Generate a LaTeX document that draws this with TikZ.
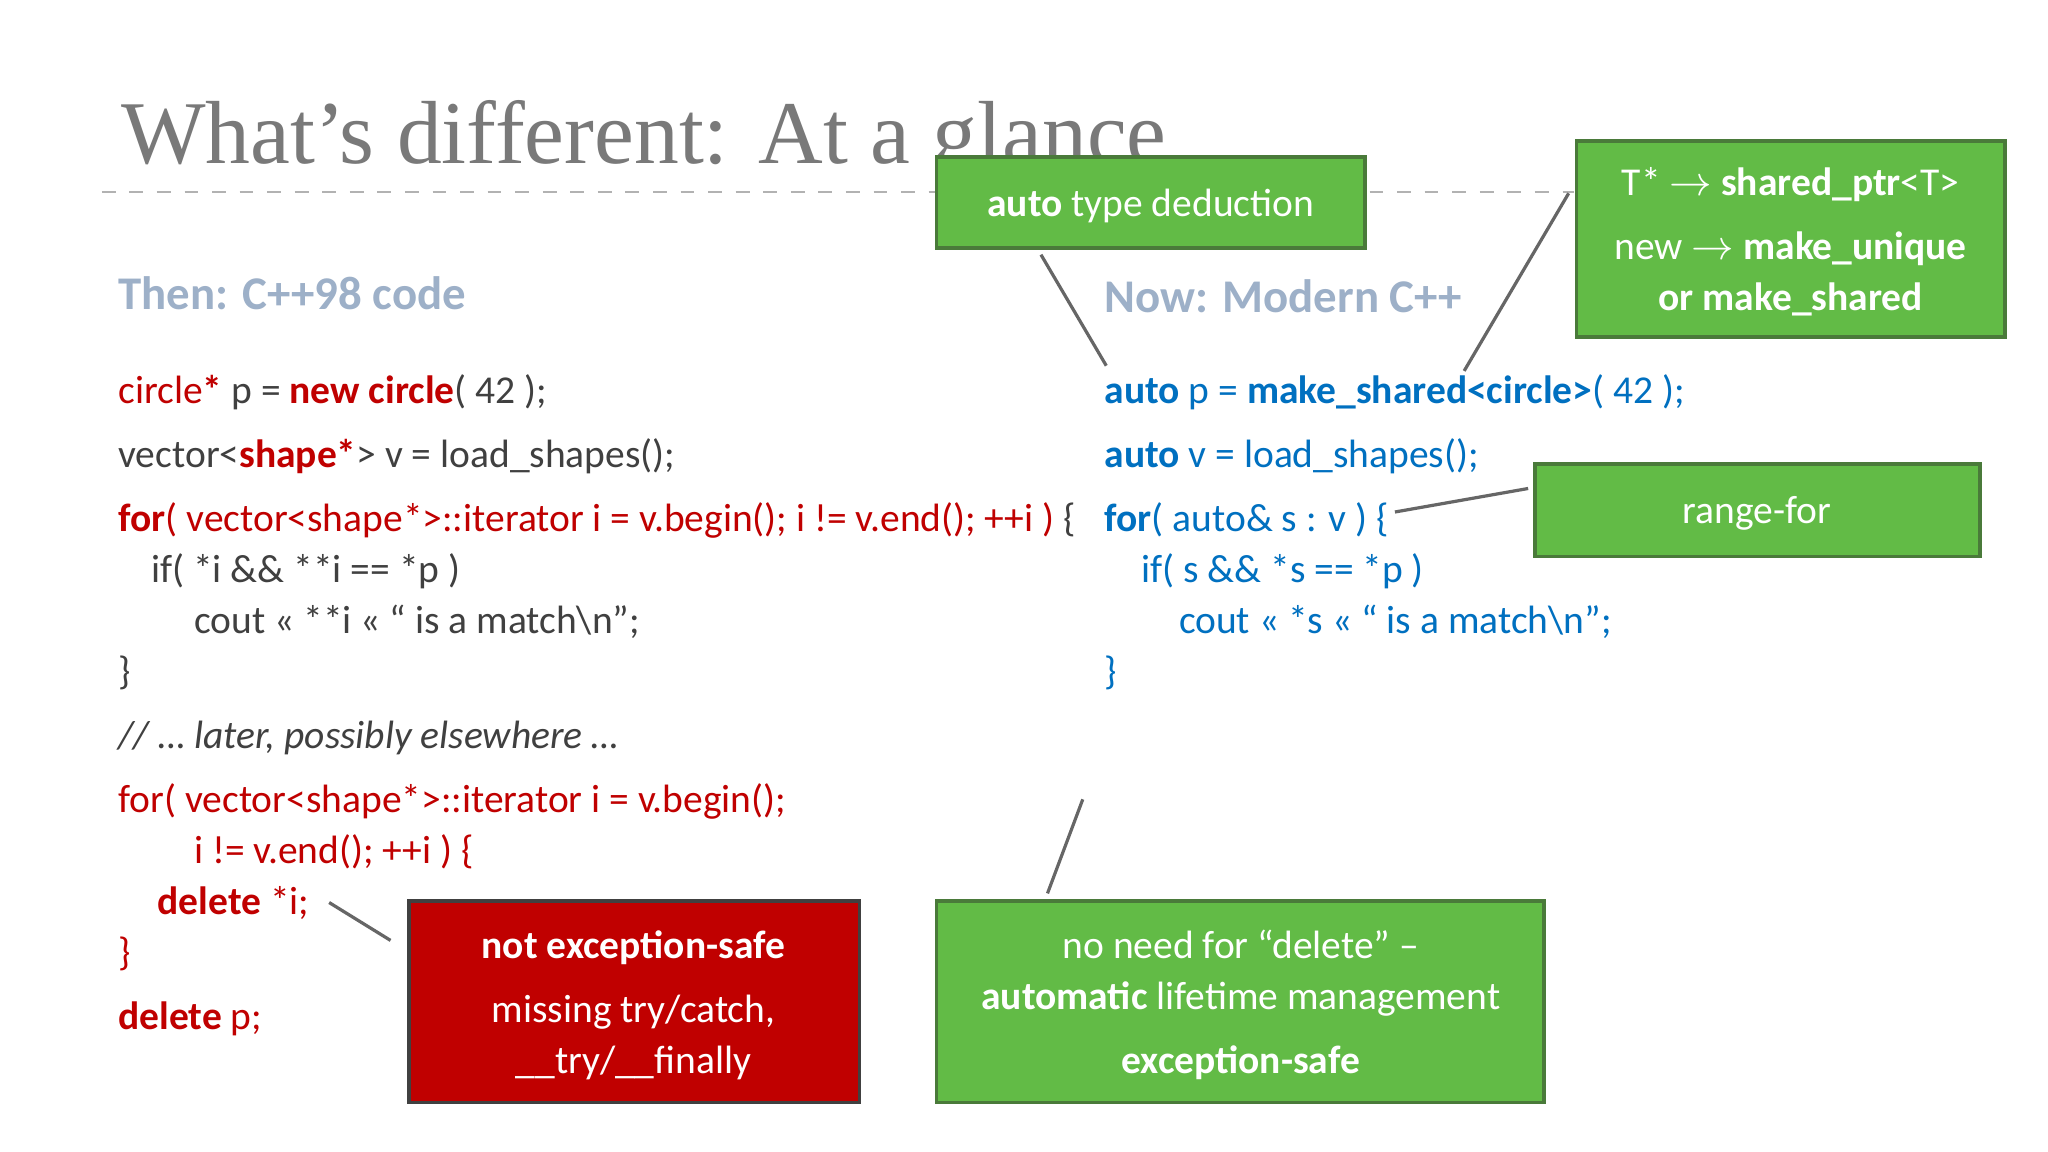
\documentclass[tikz,border=0pt]{standalone}
\usepackage{fontspec}
\setmainfont{Carlito}
\newfontfamily\titlefont{Liberation Serif}
\definecolor{cred}{HTML}{C00000}
\definecolor{cblue}{HTML}{0070C0}
\definecolor{cgreen}{HTML}{62BB46}
\definecolor{cgreenb}{HTML}{4A7A3A}
\definecolor{ctext}{HTML}{404040}
\definecolor{chead}{HTML}{9DB0C8}
\tikzset{
 code/.style={anchor=base west,inner sep=0,font=\fontsize{8.6pt}{10pt}\selectfont,text=ctext},
 head/.style={anchor=base west,inner sep=0,font=\fontsize{10.2pt}{12pt}\selectfont\bfseries,text=chead},
 gbox/.style={draw=cgreenb,line width=0.8pt,fill=cgreen,text=white},
 rbox/.style={draw=ctext,line width=0.8pt,fill=cred,text=white},
 btxt/.style={inner sep=0,anchor=base,text=white,font=\fontsize{8.6pt}{10pt}\selectfont},
 conn/.style={draw=ctext!80,line width=0.7pt}
}
\begin{document}
\begin{tikzpicture}[x=0.01cm,y=-0.01cm]
\useasboundingbox[fill=white] (0,0) rectangle (1568,882);
\node[anchor=base west,inner sep=0,font=\titlefont\fontsize{19.5pt}{22pt}\selectfont,text=gray!50!black!70] (title) at (92,125) {What’s different: At a glance};
\draw[gray!60,dashed,line width=0.5pt] (78,147) -- (1205,147);
% headings
\node[head] (then) at (90,237) {Then: C++98 code};
\node[head] (now) at (845,239) {Now: Modern C++};
% left code
\node[code] (l1) at (90,309) {\textcolor{cred}{circle\textbf{*}} p = \textcolor{cred}{\textbf{new circle}}( 42 );};
\node[code] (l2) at (90,358) {vector<\textcolor{cred}{\textbf{shape*}}> v = load\_shapes();};
\node[code,text=cred] (l3) at (90,407) {\textbf{for}( vector<shape*>::iterator i = v.begin(); i != v.end(); ++i ) \textcolor{ctext}{\{}};
\node[code] (l4) at (115,446) {if( *i \&\& **i == *p )};
\node[code] (l5) at (148,485) {cout << **i << “ is a match\textbackslash n”;};
\node[code] (l6) at (90,524) {\}};
\node[code] (l7) at (90,573) {\itshape // … later, possibly elsewhere …};
\node[code,text=cred] (l8) at (90,622) {for( vector<shape*>::iterator i = v.begin();};
\node[code,text=cred] (l9) at (148,661) {i != v.end(); ++i ) \{};
\node[code,text=cred] (l10) at (120,700) {\textbf{delete} *i;};
\node[code,text=cred] (l11) at (90,739) {\}};
\node[code,text=cred] (l12) at (90,788) {\textbf{delete} p;};
% right code
\node[code,text=cblue] (r1) at (845,309) {\textbf{auto} p = \textbf{make\_shared<circle>}( 42 );};
\node[code,text=cblue] (r2) at (845,358) {\textbf{auto} v = load\_shapes();};
\node[code,text=cblue] (r3) at (845,407) {\textbf{for}( auto\& s : v ) \{};
\node[code,text=cblue] (r4) at (873,446) {if( s \&\& *s == *p )};
\node[code,text=cblue] (r5) at (902,485) {cout << *s << “ is a match\textbackslash n”;};
\node[code,text=cblue] (r6) at (845,524) {\}};
% boxes
\draw[gbox] (717,120) rectangle (1045,190);
\node[btxt] (b1) at (881,166) {\textbf{auto} type deduction};
\draw[gbox] (1207,108) rectangle (1535,258);
\node[btxt] (b2a) at (1371,150) {T* $\rightarrow$ \textbf{shared\_ptr}<T>};
\node[btxt] (b2b) at (1371,199) {new $\rightarrow$ \textbf{make\_unique}};
\node[btxt] (b2c) at (1371,238) {\textbf{or make\_shared}};
\draw[gbox] (1175,355) rectangle (1516,426);
\node[btxt] (b3) at (1345,401) {range-for};
\draw[rbox] (313,690) rectangle (658,844);
\node[btxt] (b4a) at (485,734) {\textbf{not exception-safe}};
\node[btxt] (b4b) at (485,783) {missing try/catch,};
\node[btxt] (b4c) at (485,822) {\_\_try/\_\_finally};
\draw[gbox] (717,690) rectangle (1182,844);
\node[btxt] (b5a) at (950,734) {no need for “delete” –};
\node[btxt] (b5b) at (950,773) {\textbf{automatic} lifetime management};
\node[btxt] (b5c) at (950,822) {\textbf{exception-safe}};
% connectors
\coordinate (c1a) at (797,195); \coordinate (c1b) at (847,280);
\coordinate (c2a) at (1201,148); \coordinate (c2b) at (1121,284);
\coordinate (c3a) at (1068,392); \coordinate (c3b) at (1170,374);
\coordinate (c4a) at (252,691); \coordinate (c4b) at (299,720);
\coordinate (c5a) at (829,612); \coordinate (c5b) at (802,684);
\draw[conn] (c1a) -- (c1b);
\draw[conn] (c2a) -- (c2b);
\draw[conn] (c3a) -- (c3b);
\draw[conn] (c4a) -- (c4b);
\draw[conn] (c5a) -- (c5b);
\end{tikzpicture}
\end{document}
